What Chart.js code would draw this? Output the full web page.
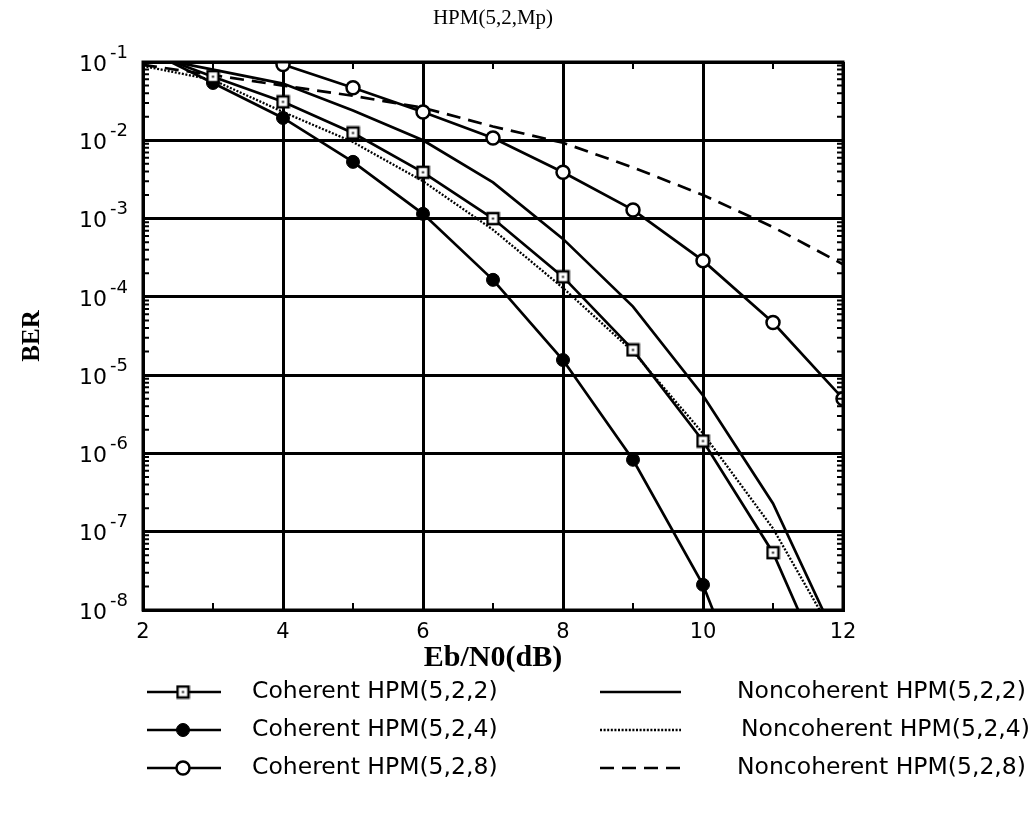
<!DOCTYPE html>
<html>
<head>
<meta charset="utf-8">
<script src="https://cdn.jsdelivr.net/npm/chart.js@4/dist/chart.umd.min.js"></script>
<style>
  html, body { margin: 0; padding: 0; background: #fff; }
  #wrap { width: 1033px; height: 818px; }
</style>
</head>
<body>
<div id="wrap"><canvas id="c" width="1033" height="818"></canvas></div>
<script>
// ---- data ----
const ebn0 = [2, 3, 4, 5, 6, 7, 8, 9, 10, 11, 12];
const xTicks = [2, 4, 6, 8, 10, 12];
const yTickExps = [-8, -7, -6, -5, -4, -3, -2, -1];

const coherent522 = [0.14, 0.065, 0.031, 0.0124, 0.0039, 0.0010, 1.8e-4, 2.1e-5, 1.44e-6, 5.4e-8, 5e-10];
const coherent524 = [0.15, 0.054, 0.0193, 0.0053, 0.00115, 1.65e-4, 1.56e-5, 8.3e-7, 2.1e-8, 1.1e-10, null];
const coherent528 = [null, 0.19, 0.093, 0.047, 0.023, 0.0107, 0.0039, 0.00129, 2.9e-4, 4.7e-5, 5.0e-6];
const noncoh522 = [0.12, 0.080, 0.053, 0.024, 0.0100, 0.0029, 5.5e-4, 7.5e-5, 5.5e-6, 2.3e-7, 2.8e-9];
const noncoh524 = [0.089, 0.059, 0.023, 0.0095, 0.0030, 7.2e-4, 1.3e-4, 2.0e-5, 1.8e-6, 1.1e-7, 3e-9];
const noncoh528 = [0.092, 0.068, 0.050, 0.037, 0.026, 0.015, 0.0093, 0.0045, 0.0020, 7.8e-4, 2.6e-4];

const seriesNames = [
  'Coherent HPM(5,2,2)', 'Coherent HPM(5,2,4)', 'Coherent HPM(5,2,8)',
  'Noncoherent HPM(5,2,2)', 'Noncoherent HPM(5,2,4)', 'Noncoherent HPM(5,2,8)'
];
const titleText = 'HPM(5,2,Mp)';
const xTitle = 'Eb/N0(dB)';
const yTitle = 'BER';

// ---- marker images ----
function squareMarker() {
  const c = document.createElement('canvas');
  c.width = 15; c.height = 15;
  const g = c.getContext('2d');
  g.fillStyle = '#fff';
  g.fillRect(1.5, 1.5, 12, 12);
  g.strokeStyle = '#000';
  g.lineWidth = 2.5;
  g.strokeRect(2, 2, 11, 11);
  g.fillStyle = '#000';
  g.fillRect(6.5, 6.5, 2, 2);
  return c;
}
const sqImg = squareMarker();

function toXY(vals) {
  return ebn0.map((x, i) => ({ x: x, y: vals[i] }));
}
function radii(vals, r) {
  // no marker on points that only carry the line out of the frame
  return vals.map(v => (v === null || v > 0.1 || v < 1e-8) ? 0 : r);
}

const datasets = [
  { label: seriesNames[0], data: toXY(coherent522), borderColor: '#000', borderWidth: 2.7,
    pointStyle: sqImg, pointRadius: radii(coherent522, 7), backgroundColor: '#fff' },
  { label: seriesNames[1], data: toXY(coherent524), borderColor: '#000', borderWidth: 2.7,
    pointStyle: 'circle', pointRadius: radii(coherent524, 6.5), backgroundColor: '#000', pointBorderColor: '#000', pointBorderWidth: 1 },
  { label: seriesNames[2], data: toXY(coherent528), borderColor: '#000', borderWidth: 2.7,
    pointStyle: 'circle', pointRadius: radii(coherent528, 6.5), backgroundColor: '#fff', pointBackgroundColor: '#fff', pointBorderColor: '#000', pointBorderWidth: 2.5 },
  { label: seriesNames[3], data: toXY(noncoh522), borderColor: '#000', borderWidth: 2.7, pointRadius: 0 },
  { label: seriesNames[4], data: toXY(noncoh524), borderColor: '#000', borderWidth: 2.3, borderDash: [2, 1.6], pointRadius: 0 },
  { label: seriesNames[5], data: toXY(noncoh528), borderColor: '#000', borderWidth: 2.7, borderDash: [14, 8], pointRadius: 0 }
];
datasets.forEach(d => { d.fill = false; d.tension = 0; d.spanGaps = false; });

const TICK_FONT = '"DejaVu Sans"';

const framePlugin = {
  id: 'frame',
  afterDraw(chart) {
    const ctx = chart.ctx;
    const a = chart.chartArea;
    const xs = chart.scales.x, ys = chart.scales.y;
    ctx.save();
    ctx.strokeStyle = '#000';
    ctx.fillStyle = '#000';
    // minor ticks
    ctx.lineWidth = 2;
    ctx.beginPath();
    for (let e = -8; e < -1; e++) {
      for (let m = 2; m <= 9; m++) {
        const y = ys.getPixelForValue(m * Math.pow(10, e));
        ctx.moveTo(a.left, y); ctx.lineTo(a.left + 6, y);
        ctx.moveTo(a.right, y); ctx.lineTo(a.right - 6, y);
      }
    }
    for (let x = 3; x <= 11; x += 2) {
      const px = xs.getPixelForValue(x);
      ctx.moveTo(px, a.top); ctx.lineTo(px, a.top + 7);
      ctx.moveTo(px, a.bottom); ctx.lineTo(px, a.bottom - 7);
    }
    ctx.stroke();
    // box
    ctx.lineWidth = 3;
    ctx.strokeRect(a.left, a.top, a.right - a.left, a.bottom - a.top);

    // y tick labels: 10 with a raised exponent
    ctx.textBaseline = 'middle';
    ctx.textAlign = 'right';
    ys.ticks.forEach(t => {
      const y = ys.getPixelForValue(t.value);
      const e = String(Math.round(Math.log10(t.value)));
      const right = a.left - 15;
      ctx.font = '18px ' + TICK_FONT;
      ctx.fillText(e, right, y - 9);
      const ew = ctx.measureText(e).width;
      ctx.font = '22px ' + TICK_FONT;
      ctx.fillText('10', right - ew - 3, y + 3);
    });

    // title
    ctx.font = '21px "Liberation Serif"';
    ctx.textAlign = 'center';
    ctx.textBaseline = 'middle';
    ctx.fillText(titleText, (a.left + a.right) / 2, 18);

    // legend
    const rows = [692, 730, 768];
    ctx.font = '23.5px ' + TICK_FONT;
    ctx.textAlign = 'left';
    for (let i = 0; i < 3; i++) {
      const y = rows[i];
      // left column: coherent
      ctx.setLineDash([]);
      ctx.lineWidth = 2.7;
      ctx.beginPath(); ctx.moveTo(147, y); ctx.lineTo(221, y); ctx.stroke();
      if (i === 0) {
        ctx.drawImage(sqImg, 183 - 7.5, y - 7.5);
      } else {
        ctx.beginPath(); ctx.arc(183, y, 6.5, 0, Math.PI * 2);
        ctx.fillStyle = i === 1 ? '#000' : '#fff';
        ctx.fill();
        ctx.lineWidth = i === 1 ? 1 : 2.5;
        ctx.stroke();
      }
      ctx.fillStyle = '#000';
      ctx.fillText(seriesNames[i], 252, y);
      // right column: noncoherent
      const dn = datasets[i + 3];
      ctx.setLineDash(dn.borderDash || []);
      ctx.lineWidth = dn.borderWidth;
      ctx.beginPath(); ctx.moveTo(600, y); ctx.lineTo(681, y); ctx.stroke();
      ctx.setLineDash([]);
      ctx.fillText(seriesNames[i + 3], i === 1 ? 741 : 737, y);
    }
    ctx.restore();
  }
};

new Chart(document.getElementById('c'), {
  type: 'line',
  data: { datasets: datasets },
  plugins: [framePlugin],
  options: {
    responsive: false,
    animation: false,
    events: [],
    layout: { padding: { top: 62, right: 190, left: 0, bottom: 0 } },
    plugins: { legend: { display: false }, title: { display: false }, tooltip: { enabled: false } },
    scales: {
      x: {
        type: 'linear', min: 2, max: 12,
        afterBuildTicks: s => { s.ticks = xTicks.map(v => ({ value: v })); },
        afterFit: s => { s.height = 208; },
        ticks: { padding: 10, color: '#000', font: { family: 'DejaVu Sans', size: 21 }, maxRotation: 0 },
        grid: { color: '#000', lineWidth: 3, drawTicks: false },
        border: { color: '#000', width: 3 },
        title: { display: true, text: xTitle, color: '#000',
          font: { family: 'Liberation Serif', size: 30, weight: 'bold' },
          padding: { top: 0, bottom: 142 } }
      },
      y: {
        type: 'logarithmic', min: 1e-8, max: 1e-1,
        afterBuildTicks: s => { s.ticks = yTickExps.map(e => ({ value: Math.pow(10, e) })); },
        afterFit: s => { s.width = 143; },
        ticks: { display: false },
        grid: { color: '#000', lineWidth: 3, drawTicks: false },
        border: { color: '#000', width: 3 },
        title: { display: true, text: yTitle, color: '#000',
          font: { family: 'Liberation Serif', size: 25, weight: 'bold' },
          padding: { top: 18, bottom: 0 } }
      }
    }
  }
});
</script>
</body>
</html>
